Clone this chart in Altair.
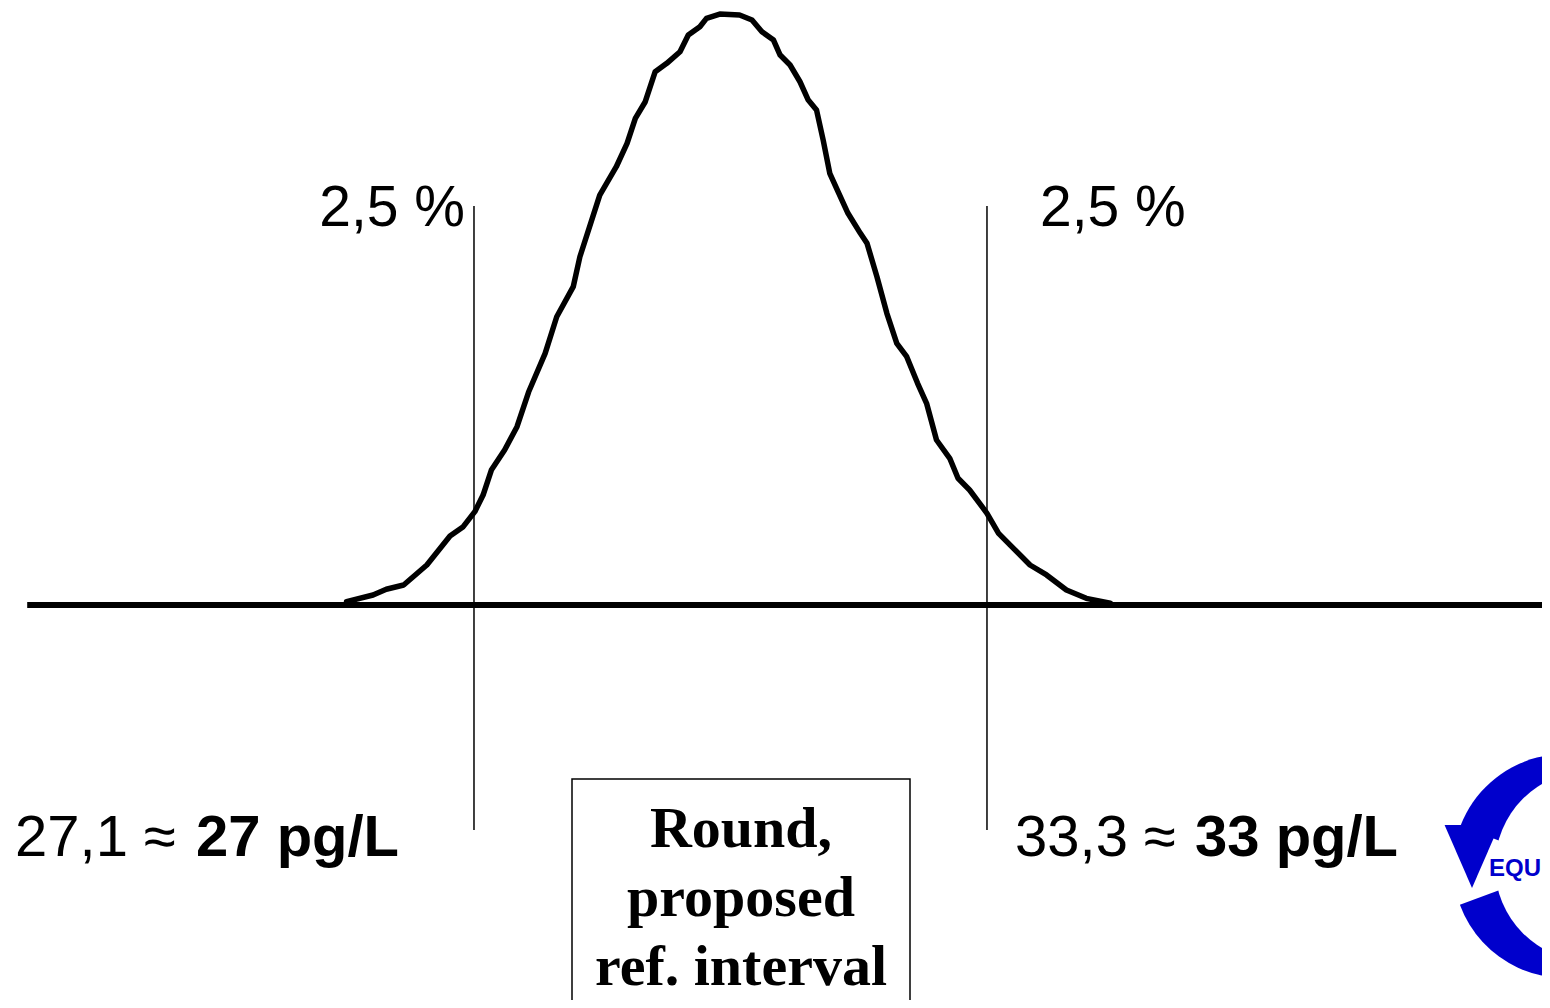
import altair as alt
import pandas as pd

# ---------------- data ----------------
# distribution curve: x in pg/L, y = relative frequency (peak = 1)
curve_x = [25.56, 25.88, 26.04, 26.25, 26.53, 26.81, 26.97, 27.11, 27.21, 27.31,
           27.47, 27.62, 27.76, 27.96, 28.10, 28.30, 28.38, 28.62, 28.82, 28.95,
           29.05, 29.17, 29.29, 29.43, 29.59, 29.69, 29.83, 29.91, 30.07,
           30.31, 30.46, 30.58, 30.72, 30.80, 30.92, 31.04, 31.14, 31.24, 31.32,
           31.40, 31.50, 31.62, 31.77, 31.85, 31.97, 32.09, 32.21, 32.33, 32.46,
           32.57, 32.69, 32.85, 32.95, 33.09, 33.30, 33.44, 33.62, 33.82, 34.02,
           34.26, 34.50, 34.79]
curve_y = [0.0056, 0.0169, 0.0266, 0.0338, 0.0677, 0.1168, 0.1325, 0.1579, 0.1861, 0.2284,
           0.2623, 0.3017, 0.3604, 0.4259, 0.4878, 0.5386, 0.5893, 0.6937, 0.7416, 0.7812,
           0.8235, 0.8516, 0.9024, 0.9166, 0.9362, 0.9645, 0.9785, 0.9927, 1.0000,
           0.9983, 0.9898, 0.9701, 0.9560, 0.9306, 0.9137, 0.8854, 0.8545, 0.8376, 0.7868,
           0.7305, 0.6993, 0.6628, 0.6289, 0.6120, 0.5555, 0.4936, 0.4428, 0.4201, 0.3756,
           0.3413, 0.2792, 0.2482, 0.2144, 0.1946, 0.1552, 0.1213, 0.0959, 0.0677, 0.0508,
           0.0254, 0.0113, 0.0029]

limits = [27.1, 33.3]              # 2.5 and 97.5 percentiles
limit_top = [0.6751, 0.6751]
limit_bottom = [-0.3807, -0.3807]
axis_start = [21.70]
axis_end = [40.10]
tail_labels = ["2,5 %", "2,5 %"]
lower_value_text = "27,1 ≈"
lower_round_text = "27 pg/L"
upper_value_text = "33,3 ≈"
upper_round_text = "33 pg/L"
box_text = "Round,\nproposed\nref. interval"
logo_text = "EQU"

# ---------------- chart ----------------
W, H = 1534, 992
XDOM = [21.468, 40.008]
YDOM = [-0.6684, 1.0102]
xs = alt.Scale(domain=XDOM, nice=False, zero=False)
ys = alt.Scale(domain=YDOM, nice=False, zero=False)

BLUE = "#0000CC"
SANS = "Liberation Sans, Arial, sans-serif"
SERIF = "Liberation Serif, Times New Roman, serif"

one = pd.DataFrame({"a": [0]})

curve_df = pd.DataFrame({"x": curve_x, "y": curve_y})
base_df = pd.DataFrame({"x": axis_start, "x2": axis_end, "y": [0.0]})
lim_df = pd.DataFrame({"x": limits, "y": limit_top, "y2": limit_bottom, "t": tail_labels})

baseline = alt.Chart(base_df).mark_rule(color="black", strokeWidth=6).encode(
    x=alt.X("x:Q", scale=xs, axis=None),
    x2="x2:Q",
    y=alt.Y("y:Q", scale=ys, axis=None),
)

curve = alt.Chart(curve_df).mark_line(
    color="black", strokeWidth=5.5, strokeJoin="round", strokeCap="round"
).encode(
    x=alt.X("x:Q", scale=xs, axis=None),
    y=alt.Y("y:Q", scale=ys, axis=None),
)

rules = alt.Chart(lim_df).mark_rule(color="black", strokeWidth=1.5).encode(
    x=alt.X("x:Q", scale=xs, axis=None),
    y=alt.Y("y:Q", scale=ys, axis=None),
    y2="y2:Q",
)

lab_left = alt.Chart(lim_df.iloc[[0]]).mark_text(
    font=SANS, fontSize=57, align="right", baseline="alphabetic", dx=-9, dy=20
).encode(
    x=alt.X("x:Q", scale=xs, axis=None),
    y=alt.Y("y:Q", scale=ys, axis=None),
    text="t:N",
)
lab_right = alt.Chart(lim_df.iloc[[1]]).mark_text(
    font=SANS, fontSize=57, align="left", baseline="alphabetic", dx=53, dy=20
).encode(
    x=alt.X("x:Q", scale=xs, axis=None),
    y=alt.Y("y:Q", scale=ys, axis=None),
    text="t:N",
)

def txt(s, x, y, weight="normal", size=58, font=SANS, align="left", color="black", **kw):
    return alt.Chart(pd.DataFrame({"t": [s]})).mark_text(
        font=font, fontSize=size, fontWeight=weight, align=align,
        baseline="alphabetic", color=color, **kw
    ).encode(x=alt.value(x), y=alt.value(y), text="t:N")

low1 = txt(lower_value_text, 7, 848)
low2 = txt(lower_round_text, 188, 848, weight="bold")
up1 = txt(upper_value_text, 1007, 848)
up2 = txt(upper_round_text, 1187, 848, weight="bold")

box = alt.Chart(one).mark_rect(fill="white", stroke="black", strokeWidth=1.5).encode(
    x=alt.value(564), x2=alt.value(902), y=alt.value(771), y2=alt.value(1020)
)
box_lbl = txt(box_text, 733, 839, weight="bold", size=58, font=SERIF, align="center",
              lineBreak="\n", lineHeight=69)

# logo (partial, clipped at the right edge)
arc_up = alt.Chart(one).mark_arc(color=BLUE, radius=112, theta=5.08, theta2=6.98).encode(
    x=alt.value(1557), y=alt.value(858))
arc_low = alt.Chart(one).mark_arc(color=BLUE, radius=112, theta=2.79, theta2=4.36).encode(
    x=alt.value(1557), y=alt.value(858))
hole = alt.Chart(one).mark_arc(color="white", radius=95, theta=0, theta2=6.2832).encode(
    x=alt.value(1582), y=alt.value(858))
arrow = alt.Chart(one).mark_point(
    shape="M-0.87,-1L0.87,-1L0,1Z", filled=True, size=3969, color=BLUE, opacity=1, strokeWidth=0
).encode(x=alt.value(1464), y=alt.value(848.5))
logo_lbl = txt(logo_text, 1481, 868, weight="bold", size=24, font=SANS, color=BLUE)

chart = alt.layer(
    baseline, curve, rules, lab_left, lab_right, low1, low2, up1, up2,
    box, box_lbl, arc_up, arc_low, hole, arrow, logo_lbl
).properties(
    width=W, height=H, autosize=alt.AutoSizeParams(type="none"), padding=0,
    background="white"
).configure_view(stroke=None)

chart.save("out.html", embed_options={"renderer": "svg", "actions": False})
